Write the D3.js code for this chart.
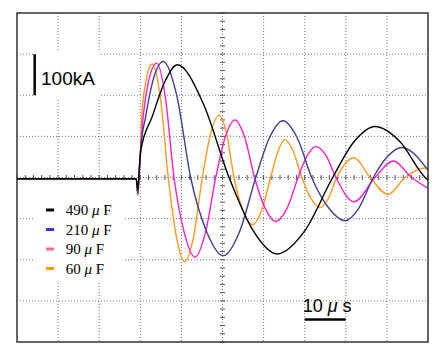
<!DOCTYPE html>
<html>
<head>
<meta charset="utf-8">
<script src="https://cdn.jsdelivr.net/npm/d3@7"></script>
<style>
	body { margin: 0; background: #fff; }
</style>
</head>
<body>
<div id="visualization"></div>
<script>
// Discharge current traces, time in us, current in kA
var capLabels = ["490", "210", "90", "60"];

var trace490 = [[-30,-3],[-1.0,-3],[-0.6,-30],[-0.3,10],[0.1,65],[2.9,148],[5.8,229],[9.0,274],[15.3,180],[21.6,0],[27.5,-130],[33.3,-186],[40.0,-130],[46.8,0],[52.0,87],[57.1,124],[63.2,87],[69.3,0],[70,-6]];
var trace210 = [[-30,-3],[-1.0,-3],[-0.6,-40],[-0.3,10],[0.1,70],[1.3,148],[2.9,229],[5.6,282],[8.9,198],[12.25,0],[16.2,-133],[20.2,-190],[24.1,-133],[28.1,0],[31.4,96],[34.7,138],[38.2,96],[41.7,0],[45.75,-73],[49.8,-105],[53.25,-73],[56.7,0],[60.15,51],[63.6,73],[70,18]];
var trace90 = [[-30,-3],[-1.0,-3],[-0.6,-40],[-0.3,10],[0.1,70],[0.7,148],[1.9,229],[4.0,278],[6.1,195],[8.2,0],[10.75,-136],[13.3,-194],[15.8,-136],[18.35,0],[20.65,98],[23.0,140],[25.4,98],[27.8,0],[30.4,-75],[32.9,-107],[35.7,-75],[38.4,0],[40.6,53],[42.75,75],[45.2,53],[47.6,0],[52.0,-59],[57.1,0],[61.6,40],[66.0,0],[70,-26]];
var trace60 = [[-30,-3],[-1.0,-3],[-0.6,-45],[-0.3,10],[0.1,75],[0.3,140],[1.3,230],[2.0,262],[2.9,276],[4.9,193],[6.8,0],[8.8,-145],[10.8,-205],[12.95,-145],[15.1,0],[17.1,106],[19.15,151],[21.0,106],[22.8,0],[25.0,-81],[27.25,-115],[29.5,-81],[31.7,0],[33.5,64],[35.2,92],[37.2,64],[39.3,0],[41.5,-51],[43.7,-73],[45.75,-51],[47.8,0],[52.0,48],[55.9,0],[60.3,-41],[64.4,0],[69.3,23],[70,21]];

var timeTicks = [-20, -10, 0, 10, 20, 30, 40, 50, 60];
var currentTicks = [-300, -200, -100, 0, 100, 200, 300];

var traceColors = ["#000000", "#404090", "#ff22cc", "#ff9922"];
var legendColors = ["#000000", "#3a3ad0", "#ff6699", "#ff9900"];

var svgContainer = d3.select("#visualization").append("svg")
	.attr("width", 448)
	.attr("height", 354);

var x = d3.scaleLinear().domain([-30, 70]).range([17, 428]);
var y = d3.scaleLinear().domain([-400, 400]).range([342, 13]);

// dotted grid
svgContainer.selectAll(".vgrid").data(timeTicks).enter().append("line")
	.attr("x1", function(d){ return x(d); })
	.attr("x2", function(d){ return x(d); })
	.attr("y1", y(400))
	.attr("y2", y(-400))
	.attr("stroke", "#777")
	.attr("stroke-width", 1)
	.attr("stroke-dasharray", "1,2");

svgContainer.selectAll(".hgrid").data(currentTicks).enter().append("line")
	.attr("x1", x(-30))
	.attr("x2", x(70))
	.attr("y1", function(d){ return y(d); })
	.attr("y2", function(d){ return y(d); })
	.attr("stroke", "#777")
	.attr("stroke-width", 1)
	.attr("stroke-dasharray", "1,2");

// small ticks on the centre axes
var xMinor = d3.range(-30, 70.01, 2);
var yMinor = d3.range(-400, 400.01, 20);
svgContainer.selectAll(".xminor").data(xMinor).enter().append("line")
	.attr("x1", function(d){ return x(d); })
	.attr("x2", function(d){ return x(d); })
	.attr("y1", y(0) - 2.5)
	.attr("y2", y(0) + 2.5)
	.attr("stroke", "#555")
	.attr("stroke-width", 1);
svgContainer.selectAll(".yminor").data(yMinor).enter().append("line")
	.attr("x1", x(20) - 2.5)
	.attr("x2", x(20) + 2.5)
	.attr("y1", function(d){ return y(d); })
	.attr("y2", function(d){ return y(d); })
	.attr("stroke", "#555")
	.attr("stroke-width", 1);

// white patches behind the labels
svgContainer.append("rect")
	.attr("x", 33).attr("y", 50)
	.attr("width", 67).attr("height", 50)
	.attr("fill", "white");
svgContainer.append("rect")
	.attr("x", 33).attr("y", 181)
	.attr("width", 90).attr("height", 102)
	.attr("fill", "white");

// traces, black drawn last so it sits on the baseline
var line = d3.line()
	.x(function(d){ return x(d[0]); })
	.y(function(d){ return y(d[1]); })
	.curve(d3.curveMonotoneX);

var traces = [trace60, trace90, trace210, trace490];
var order = [3, 2, 1, 0];
for (var i = 0; i < traces.length; i++) {
	svgContainer.append("path")
		.attr("d", line(traces[i]))
		.attr("fill", "none")
		.attr("stroke", traceColors[order[i]])
		.attr("stroke-width", 1.4);
}

// frame
svgContainer.append("rect")
	.attr("x", x(-30))
	.attr("y", y(400))
	.attr("width", x(70) - x(-30))
	.attr("height", y(-400) - y(400))
	.attr("fill", "none")
	.attr("stroke", "#333")
	.attr("stroke-width", 1.5);

// 100kA scale bar
svgContainer.append("line")
	.attr("x1", x(-25.7)).attr("x2", x(-25.7))
	.attr("y1", y(300)).attr("y2", y(200))
	.attr("stroke", "black")
	.attr("stroke-width", 2.5);
svgContainer.append("text")
	.attr("x", 41)
	.attr("y", 85)
	.text("100kA")
	.attr("font-family", "Liberation Sans, Arial, sans-serif")
	.attr("font-size", "19px")
	.attr("fill", "black");

// 10us scale bar
svgContainer.append("line")
	.attr("x1", x(40)).attr("x2", x(50))
	.attr("y1", 319.5).attr("y2", 319.5)
	.attr("stroke", "black")
	.attr("stroke-width", 2.5);
var usText = svgContainer.append("text")
	.attr("x", 302.7)
	.attr("y", 312.3)
	.attr("font-family", "Liberation Sans, Arial, sans-serif")
	.attr("font-size", "18px")
	.attr("fill", "black")
	.attr("xml:space", "preserve");
usText.append("tspan").text("10 ");
usText.append("tspan").text("\u03bc").attr("font-style", "italic");
usText.append("tspan").text(" s");

// legend
for (var j = 0; j < capLabels.length; j++) {
	var rowY = 210 + j * 19.5;
	svgContainer.append("rect")
		.attr("x", 46)
		.attr("y", rowY - 1.5)
		.attr("width", 8)
		.attr("height", 3)
		.attr("fill", legendColors[j]);
	var lbl = svgContainer.append("text")
		.attr("x", 65.7)
		.attr("y", rowY + 5)
		.attr("font-family", "Liberation Serif, Times New Roman, serif")
		.attr("font-size", "15px")
		.attr("fill", "black")
		.attr("xml:space", "preserve");
	lbl.append("tspan").text(capLabels[j] + " ");
	lbl.append("tspan").text("\u03bc").attr("font-style", "italic");
	lbl.append("tspan").text(" F");
}
</script>
</body>
</html>
